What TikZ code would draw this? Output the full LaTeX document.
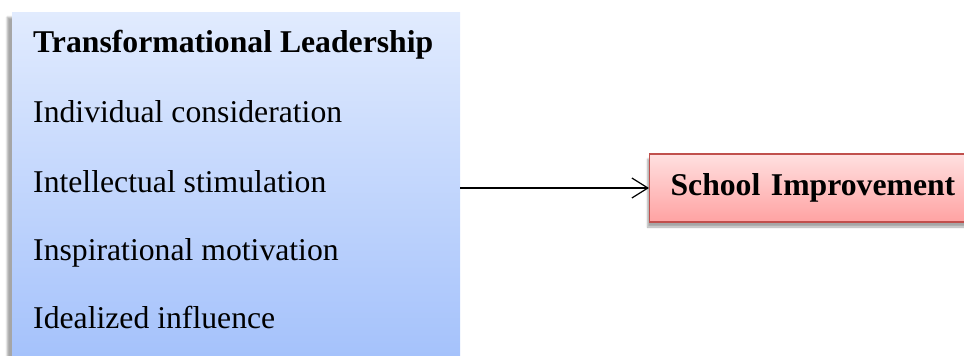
\documentclass[tikz,border=0pt]{standalone}
\usepackage{fontspec}
\setmainfont{Liberation Serif}
\usetikzlibrary{arrows.meta,shadows.blur}

\definecolor{bluetop}{RGB}{225,235,254}
\definecolor{bluebot}{RGB}{162,192,251}
\definecolor{redtop}{RGB}{255,224,224}
\definecolor{redbot}{RGB}{255,162,162}
\definecolor{redline}{RGB}{192,80,77}

\tikzset{
  bigfont/.style={font=\fontsize{31.7}{38}\selectfont},
  factorbox/.style={rectangle, draw=none, top color=bluetop, bottom color=bluebot,
    minimum width=448pt, minimum height=360pt, inner sep=0pt,
    blur shadow={shadow xshift=-5pt, shadow yshift=-5pt, shadow blur steps=4, shadow opacity=35}},
  outcomebox/.style={rectangle, draw=redline, line width=1.1pt,
    top color=redtop, bottom color=redbot,
    minimum width=330pt, minimum height=68pt, inner xsep=21pt, inner ysep=0pt,
    text width=288pt, align=left, font=\bfseries\fontsize{31.7}{38}\selectfont,
    blur shadow={shadow xshift=-2pt, shadow yshift=-5pt, shadow blur steps=4, shadow opacity=35}},
  itemtext/.style={anchor=base west, inner sep=0pt, bigfont},
  link/.style={line width=1.2pt, -{Straight Barb[length=16pt, width=20pt, line width=1.2pt]}}
}

\begin{document}
\begin{tikzpicture}[x=1pt, y=-1pt]
  \useasboundingbox (0,0) rectangle (964,356);
  \clip (0,0) rectangle (964,356);

  % independent variable with its four dimensions
  \node[factorbox, anchor=north west] (tl) at (12,12) {};
  \node[itemtext, font=\bfseries\fontsize{31.7}{38}\selectfont] (title) at (33,52) {Transformational Leadership};
  \node[itemtext] (ic) at (33,122) {Individual consideration};
  \node[itemtext] (is) at (33,192) {Intellectual stimulation};
  \node[itemtext] (im) at (33,260) {Inspirational motivation};
  \node[itemtext] (ii) at (33,328) {Idealized influence};

  % dependent variable
  \node[outcomebox, anchor=west] (si) at (649,188) {School Improvement};

  \draw[link] (tl.east |- si.west) -- (si.west);
\end{tikzpicture}
\end{document}
